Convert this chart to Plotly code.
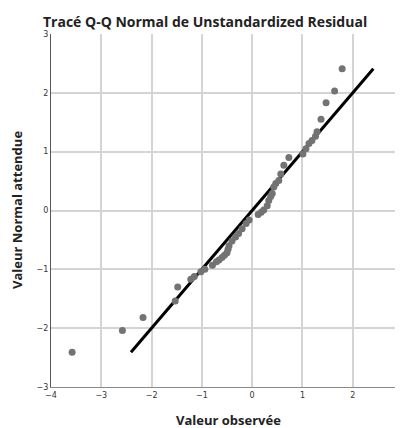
import plotly.graph_objects as go

# Observed values (x) and expected normal values (y)
observed = [-3.58, -2.58, -2.17, -1.53, -1.48, -1.22, -1.15, -1.02, -0.94, -0.79,
            -0.71, -0.66, -0.60, -0.55, -0.50, -0.48, -0.46, -0.40, -0.33, -0.27,
            -0.20, -0.12, -0.06, 0.12, 0.18, 0.23, 0.30, 0.33, 0.37, 0.40,
            0.43, 0.47, 0.53, 0.57, 0.63, 0.73, 1.01, 1.07, 1.13, 1.19,
            1.26, 1.29, 1.37, 1.47, 1.64, 1.79]
expected = [-2.41, -2.04, -1.82, -1.54, -1.30, -1.17, -1.12, -1.04, -1.00, -0.93,
            -0.87, -0.84, -0.80, -0.76, -0.72, -0.66, -0.60, -0.52, -0.45, -0.39,
            -0.31, -0.22, -0.16, -0.07, -0.03, 0.01, 0.08, 0.17, 0.24, 0.29,
            0.40, 0.46, 0.51, 0.62, 0.77, 0.90, 0.96, 1.05, 1.14, 1.19,
            1.26, 1.34, 1.55, 1.83, 2.03, 2.41]
ref_line = [-2.41, 2.41]
x_ticks = [-4, -3, -2, -1, 0, 1, 2, 3]
y_ticks = [-3, -2, -1, 0, 1, 2, 3]

OFF = 8  # page body margin
W, H = 403 - OFF, 428 - OFF
L, R, T = 51 - OFF, 0, 34 - OFF
PW = W - L - R
PH = 353
B = H - T - PH

def px_to_paper_y(py):
    # py in window pixels
    return 1 - (py - OFF - T) / PH

fig = go.Figure()
fig.add_trace(go.Scatter(x=ref_line, y=ref_line, mode="lines",
                         line=dict(color="black", width=3), hoverinfo="skip"))
fig.add_trace(go.Scatter(x=observed, y=expected, mode="markers",
                         marker=dict(color="#737373", size=7, line=dict(width=0))))

fig.update_layout(
    width=W, height=H,
    margin=dict(l=L, r=R, t=T, b=B, pad=0),
    paper_bgcolor="white", plot_bgcolor="white",
    showlegend=False,
    font=dict(family="DejaVu Sans", color="#333333"),
    title=dict(text="Tracé Q-Q Normal de Unstandardized Residual",
               font=dict(family="Open Sans", size=14, color="#222222", weight="bold"),
               xref="container", yref="container", x=(43 - OFF)/W, xanchor="left",
               y=1-(22 - OFF)/H, yanchor="middle"),
    xaxis=dict(range=[-4, 3], tickvals=x_ticks, showgrid=True, gridcolor="#d4d4d4",
               gridwidth=1.5, zeroline=False, showline=True, linecolor="#8a8a8a",
               linewidth=1, ticks="", tickfont=dict(size=8, color="#333333"),
               ticklabeloverflow="allow",
               automargin=False, fixedrange=True),
    yaxis=dict(range=[-3, 3], tickvals=y_ticks, showgrid=True, gridcolor="#d4d4d4",
               gridwidth=1.5, zeroline=False, showline=True, linecolor="#555555",
               linewidth=1, ticks="", tickfont=dict(size=8, color="#333333"),
               ticklabeloverflow="allow",
               automargin=False, fixedrange=True),
    annotations=[
        dict(text="Valeur observée", xref="paper", yref="paper", x=(228 - OFF - L)/PW,
             y=px_to_paper_y(420),
             xanchor="center", yanchor="middle", showarrow=False,
             font=dict(family="Open Sans", size=13, color="#222222", weight="bold")),
        dict(text="Valeur Normal attendue", xref="paper", yref="paper", x=(17 - OFF - L)/PW,
             y=px_to_paper_y(210),
             xanchor="center", yanchor="middle", showarrow=False, textangle=-90,
             font=dict(family="Open Sans", size=13, color="#222222", weight="bold")),
    ],
)

fig.write_html("out.html")
